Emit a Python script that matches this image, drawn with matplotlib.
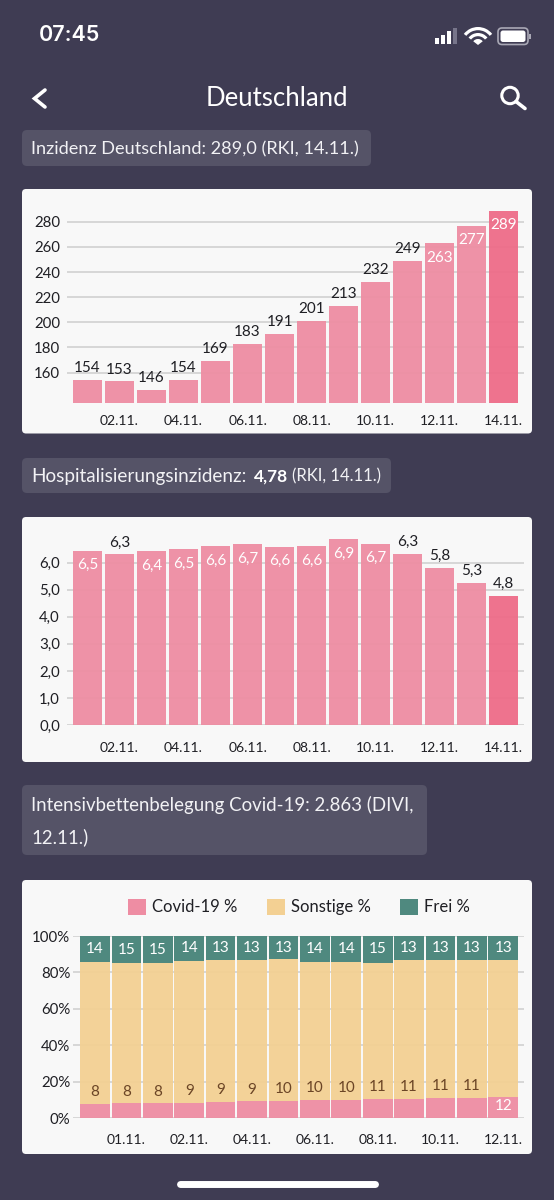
import matplotlib
matplotlib.use("Agg")
import matplotlib.pyplot as plt
from matplotlib.patches import FancyBboxPatch, Rectangle, Wedge, Circle, Patch
from matplotlib.ticker import FixedLocator, FixedFormatter

plt.rcParams['font.family'] = ['Lato', 'DejaVu Sans']

W, H = 554, 1200
BG, PILL, CARD = '#3F3C53', '#555367', '#F8F8F8'
GRID, INK = '#CDCDCD', '#1F1F24'
PINK, PINK_LAST, YELLOW, TEAL = '#EE8DA3', '#EE6C88', '#F3D093', '#4F897F'
BROWN = '#6B4526'

# Chart 1
inz_values = [154, 153, 146, 154, 169, 183, 191, 201, 213, 232, 249, 263, 277, 289]
inz_labels = ['154', '153', '146', '154', '169', '183', '191', '201', '213', '232', '249', '263', '277', '289']
inz_yticks = [160, 180, 200, 220, 240, 260, 280]
inz_xticks = ['02.11.', '04.11.', '06.11.', '08.11.', '10.11.', '12.11.', '14.11.']

# Chart 2
hosp_values = [6.44, 6.31, 6.42, 6.5, 6.62, 6.68, 6.59, 6.61, 6.88, 6.7, 6.32, 5.8, 5.25, 4.78]
hosp_labels = ['6,5', '6,3', '6,4', '6,5', '6,6', '6,7', '6,6', '6,6', '6,9', '6,7', '6,3', '5,8', '5,3', '4,8']
hosp_inside = [True, False, True, True, True, True, True, True, True, True, False, False, False, False]
hosp_yticks = [0, 1, 2, 3, 4, 5, 6]
hosp_yticklabels = ['0,0', '1,0', '2,0', '3,0', '4,0', '5,0', '6,0']

# Chart 3
covid_values = [7.9, 8.2, 8.2, 8.6, 8.8, 9.3, 9.7, 10.0, 10.2, 10.6, 10.6, 11.0, 11.3, 11.5]
free_values = [14.1, 15.0, 15.0, 13.7, 13.3, 13.0, 12.8, 14.1, 14.4, 14.8, 13.3, 13.0, 13.0, 13.0]
covid_labels = ['8', '8', '8', '9', '9', '9', '10', '10', '10', '11', '11', '11', '11', '12']
free_labels = ['14', '15', '15', '14', '13', '13', '13', '14', '14', '15', '13', '13', '13', '13']
icu_yticks = [0, 20, 40, 60, 80, 100]
icu_yticklabels = ['0%', '20%', '40%', '60%', '80%', '100%']
icu_xticks = ['01.11.', '02.11.', '04.11.', '06.11.', '08.11.', '10.11.', '12.11.']

fig = plt.figure(figsize=(W / 100, H / 100), dpi=100, facecolor=BG)

# Pixel-space layer for the phone screen furniture
bg = fig.add_axes([0, 0, 1, 1], zorder=0)
bg.set_xlim(0, W); bg.set_ylim(H, 0); bg.axis('off')


def rounded(x0, y0, x1, y1, color, r=4, z=1):
    bg.add_patch(FancyBboxPatch((x0 + r, y0 + r), x1 - x0 - 2 * r, y1 - y0 - 2 * r,
                                boxstyle=f'round,pad={r},rounding_size={r}',
                                fc=color, ec='none', zorder=z))


# Cards and title pills
rounded(22, 189, 532, 433.5, CARD)
rounded(22, 517, 532, 762, CARD)
rounded(22, 880, 532, 1154, CARD)
rounded(22, 130, 371, 166, PILL, r=5)
rounded(22, 458, 391, 493, PILL, r=5)
rounded(22, 785, 427, 855, PILL, r=5)
TXT = '#F2F2F5'
bg.text(31, 149, 'Inzidenz Deutschland: 289,0 (RKI, 14.11.)', color=TXT, fontsize=13.05, va='center')
bg.text(31, 476.5, 'Hospitalisierungsinzidenz:', color=TXT, fontsize=13.6, va='center')
bg.text(254, 476.5, '4,78', color='white', fontsize=12.5, va='center', fontweight='bold')
bg.text(292, 476.5, '(RKI, 14.11.)', color=TXT, fontsize=12, va='center')
bg.text(31, 805, 'Intensivbettenbelegung Covid-19: 2.863 (DIVI,', color=TXT, fontsize=13.4, va='center')
bg.text(31, 837, '12.11.)', color=TXT, fontsize=13.4, va='center')

# Status bar and navigation
bg.text(39, 35, '07:45', color='white', fontsize=15.5, va='center', fontweight='semibold',
        family=['Inter', 'DejaVu Sans'])
bg.text(277, 99, 'Deutschland', color='white', fontsize=18.5, va='center', ha='center')
# signal bars
for x, top, c in [(434.5, 38, 'white'), (440.5, 35, 'white'), (446.5, 31, 'white'), (452.5, 28, '#77758A')]:
    bg.add_patch(Rectangle((x, top), 4.3, 44 - top, fc=c, ec='none', zorder=3))
# wifi
for r, w in [(18, 3.2), (12, 3.2)]:
    bg.add_patch(Wedge((478, 45), r, 218, 322, width=w, fc='white', ec='none', zorder=3))
bg.add_patch(Wedge((478, 45), 6, 218, 322, fc='white', ec='none', zorder=3))
# battery
bg.add_patch(FancyBboxPatch((498, 28), 30, 16.5, boxstyle='round,pad=0,rounding_size=4',
                            fc=BG, ec='#A9A8B5', lw=1.2, zorder=3))
bg.add_patch(FancyBboxPatch((500.5, 30.5), 25, 11.5, boxstyle='round,pad=0,rounding_size=2.5',
                            fc='white', ec='none', zorder=4))
bg.add_patch(Rectangle((529, 33.5), 1.5, 5.5, fc='#A9A8B5', ec='none', zorder=3))
# back chevron
bg.plot([45, 34.5, 45], [90, 98.5, 107], color='white', lw=2.6, solid_capstyle='round',
        solid_joinstyle='miter', zorder=3)
# search
bg.add_patch(Circle((510, 95.5), 8.2, fc='none', ec='white', lw=2.2, zorder=3))
bg.plot([516, 525], [101.5, 108.5], color='white', lw=2.6, solid_capstyle='round', zorder=3)
# home indicator
bg.plot([180, 375], [1184, 1184], color='white', lw=5, solid_capstyle='round', zorder=3)


def axes_px(x0, y0, x1, y1):
    return fig.add_axes([x0 / W, 1 - y1 / H, (x1 - x0) / W, (y1 - y0) / H], zorder=2, facecolor='none')


def style(ax, yticks, yticklabels, xpos, xlabels, xpad, ypad=5):
    for s in ax.spines.values():
        s.set_visible(False)
    ax.yaxis.set_major_locator(FixedLocator(yticks))
    ax.yaxis.set_major_formatter(FixedFormatter(yticklabels))
    ax.xaxis.set_major_locator(FixedLocator(xpos))
    ax.xaxis.set_major_formatter(FixedFormatter(xlabels))
    ax.tick_params(axis='y', length=0, pad=ypad, labelsize=10.8, labelcolor=INK)
    ax.tick_params(axis='x', length=0, pad=xpad, labelsize=10, labelcolor=INK)
    ax.grid(axis='y', color=GRID, lw=1.1, zorder=0)
    ax.set_axisbelow(True)


idx = list(range(14))
odd = idx[1::2]
LABEL = 11

# Chart 1: y-pixel scale 160 -> 372.7, 280 -> 222, bars from 402.7
ax1 = axes_px(67, 205, 524, 402.7)
ax1.set_xlim(-0.637, 13.63)
ax1.set_ylim(136, 136 + (402.7 - 205) / 1.2558)
ax1.bar(idx, inz_values, width=0.9, color=[PINK] * 13 + [PINK_LAST], alpha=0.95, zorder=2)
for i, v, s in zip(idx, inz_values, inz_labels):
    inside = i >= 11
    ax1.annotate(s, (i, v), xytext=(0, -10.5 if inside else 8.5), textcoords='offset points',
                 ha='center', va='center', fontsize=LABEL, color='white' if inside else INK, zorder=4)
style(ax1, inz_yticks, [str(t) for t in inz_yticks], odd, inz_xticks, 9)

# Chart 2: 0 -> 725, 6 -> 562.7
ax2 = axes_px(67, 530, 524, 725)
ax2.set_xlim(-0.637, 13.63)
ax2.set_ylim(0, (725 - 530) / 27.05)
ax2.bar(idx, hosp_values, width=0.9, color=[PINK] * 13 + [PINK_LAST], alpha=0.95, zorder=2)
for i, v, s, inside in zip(idx, hosp_values, hosp_labels, hosp_inside):
    ax2.annotate(s, (i, v), xytext=(0, -10.5 if inside else 8.5), textcoords='offset points',
                 ha='center', va='center', fontsize=LABEL, color='white' if inside else INK, zorder=4)
style(ax2, hosp_yticks, hosp_yticklabels, odd, inz_xticks, 12)

# Chart 3: 0 -> 1118.3, 100 -> 936
ax3 = axes_px(73, 936, 524, 1118.3)
ax3.set_xlim((73 - 95) / 31.41, (524 - 95) / 31.41)
ax3.set_ylim(0, 100)
other_values = [100 - c - f for c, f in zip(covid_values, free_values)]
bottom_free = [c + o for c, o in zip(covid_values, other_values)]
ax3.bar(idx, covid_values, width=0.945, color=PINK, alpha=0.95, zorder=2)
ax3.bar(idx, other_values, width=0.945, bottom=covid_values, color=YELLOW, alpha=0.95, zorder=2)
ax3.bar(idx, free_values, width=0.945, bottom=bottom_free, color=TEAL, zorder=2)
for i, c, f, sc, sf, b in zip(idx, covid_values, free_values, covid_labels, free_labels, bottom_free):
    ax3.annotate(sf, (i, b + f / 2), ha='center', va='center', fontsize=LABEL, color='white',
                 xytext=(0, 0), textcoords='offset points', zorder=4)
    last = i == 13
    ax3.annotate(sc, (i, c), xytext=(0, -6.5 if last else 8.5), textcoords='offset points',
                 ha='center', va='center', fontsize=LABEL, color='white' if last else BROWN, zorder=4)
style(ax3, icu_yticks, icu_yticklabels, odd, icu_xticks, 11, ypad=2)
ax3.legend(handles=[Patch(fc=PINK, label='Covid-19 %'), Patch(fc=YELLOW, label='Sonstige %'), Patch(fc=TEAL, label='Frei %')],
           ncol=3, frameon=False, fontsize=12, loc='center', bbox_to_anchor=((299 - 73) / 451, 1 + 29 / 182.3),
           handlelength=1.08, handleheight=1.08, handletextpad=0.38, columnspacing=1.75, labelcolor=INK, borderpad=0)

fig.savefig('out.png', dpi=100, facecolor=BG)
